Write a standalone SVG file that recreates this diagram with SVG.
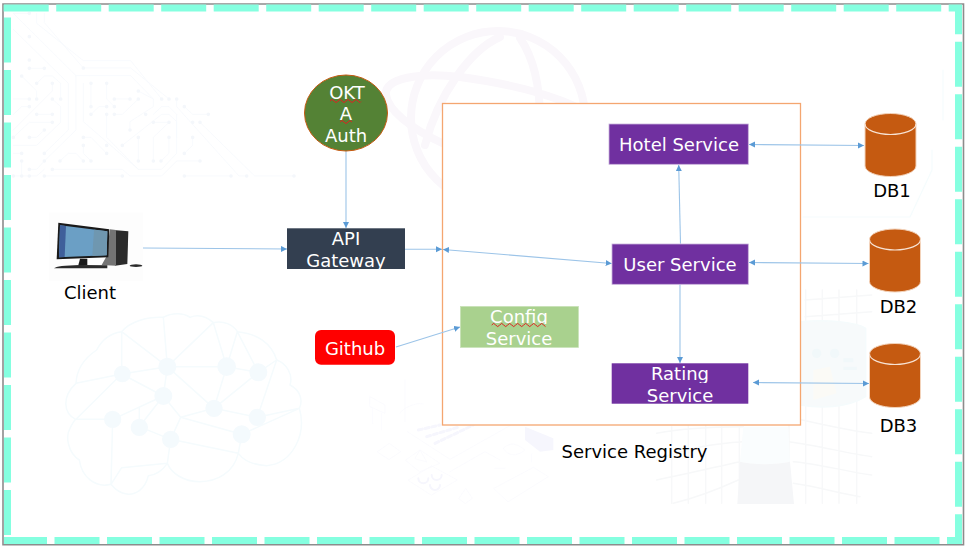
<svg xmlns="http://www.w3.org/2000/svg" width="966" height="547" viewBox="0 0 966 547">
<style>
text{font-family:"DejaVu Sans",Verdana,sans-serif;font-size:18px;text-anchor:middle}
.w{fill:#fff}.k{fill:#000}
.dash{fill:none;stroke:#85ffe0;stroke-width:7;stroke-dasharray:45 7.5}
.wm{fill:none;stroke-linejoin:round;stroke-linecap:round}
.sq{fill:none;stroke:#e02020;stroke-width:1}
.c{fill:none;stroke:#9cc4e8;stroke-width:1.1;marker-end:url(#a)}
.b{marker-start:url(#a)}
.svc{fill:#7030a0;stroke:#c9b3dc;stroke-width:.8}
.db{fill:#c55a11;stroke:#f3d3bb;stroke-width:1}
.dbl{fill:none;stroke:#f7e2d3;stroke-width:1.2}
</style>
<defs>
<marker id="a" markerUnits="userSpaceOnUse" markerWidth="7" markerHeight="7" refX="6" refY="3" orient="auto-start-reverse"><path d="M0 0L6 3L0 6Z" fill="#5b9bd5"/></marker>
<clipPath id="cg"><rect x="287" y="228" width="118" height="41"/></clipPath>
<clipPath id="cc"><rect x="460" y="306" width="118" height="18"/></clipPath>
<clipPath id="cr"><rect x="612" y="363" width="136" height="20"/></clipPath>
</defs>
<rect width="966" height="547" fill="#fff"/>

<g id="watermark">
<g class="wm" transform="scale(.33333)" stroke="#f7f9fd" stroke-width="2.500">
<path d="M110 40V70L250 182H392L485 297M133 40V68L250 204M40 40L228 227V390L133 483M40 88L205 250V390L133 460M40 40H88M228 227H250L270 227H392L460 297V320L390 365V390M250 250V365L415 508H485L530 460V365L507 343H485L367 436M460 367H507L460 412V483M507 412V460L483 483M415 412V483M578 412V436L553 460M530 297V320L717 528H740M553 320L578 343H625M600 367L764 528H882M250 204H392L507 297M40 528H110L133 508M133 528H367M157 508H367L390 528H485L530 483H600M553 528H693M88 205H133M65 228L110 273V297M110 250L133 228H157L182 250V297M157 250V273L40 390M40 297H88M40 343L65 320H88M110 343H157M157 367H88L40 412M88 412H110L133 390M40 436H110L182 367V320L157 297M273 250V320M320 250V297L343 320M273 343L297 320H320M343 297H390M343 343H367L415 297M320 343V412L415 508M415 273L460 297M460 343L485 320H507L530 343V412M250 412H273L320 460M250 436V460L273 483M180 483L205 460H228L250 483M40 460H65M65 483V528M88 508H110L133 483"/>
<path stroke="#f4f7fb" stroke-width="11" d="M88 40h0M250 204h0M485 297h0M507 297h0M530 297h0M553 320h0M625 343h0M578 367h0M600 367h0M88 110h0M88 180h0M88 205h0M133 205h0M65 228h0M110 250h0M157 250h0M110 297h0M157 297h0M182 297h0M88 297h0M88 320h0M110 343h0M157 343h0M157 367h0M133 390h0M88 412h0M40 412h0M273 250h0M320 250h0M273 320h0M320 320h0M343 320h0M273 343h0M320 343h0M343 343h0M343 297h0M390 297h0M415 297h0M415 273h0M437 343h0M390 390h0M460 367h0M507 367h0M367 436h0M415 412h0M507 412h0M578 412h0M553 460h0M415 483h0M460 483h0M483 483h0M600 483h0M250 412h0M320 436h0M320 460h0M250 436h0M250 483h0M273 483h0M180 483h0M133 460h0M133 483h0M65 460h0M65 483h0M88 508h0M157 508h0M40 528h0M65 528h0M88 528h0M133 528h0M367 528h0M553 528h0M693 528h0M740 528h0M882 528h0"/>
</g>
<g class="wm" stroke="#faf7fb" stroke-width="8">
<circle cx="498" cy="118" r="87"/>
<path d="M500 37C470 50 438 95 425 145M520 38C535 60 540 90 540 120M442 143C410 128 388 110 386 95C384 78 420 72 460 77C520 85 570 100 600 120"/>
</g>
<g class="wm" transform="translate(40 300) scale(.33333)" stroke="#f5fbfd" stroke-width="4.500">
<path d="M108 250C110 200 140 170 170 150C185 120 210 100 245 95C270 65 320 50 370 52C395 38 430 38 450 52C475 42 500 50 520 68C550 60 580 75 592 95C650 100 695 130 710 180C740 190 760 225 750 255C780 270 790 300 778 325C800 400 760 490 680 497C640 495 610 480 595 460C580 520 530 545 480 545C430 545 395 520 382 490C365 515 345 525 325 527C315 570 285 585 260 582C240 580 225 568 213 553C165 565 125 530 118 480C85 460 75 410 90 385C95 375 100 365 107 358C70 340 65 290 108 250Z"/>
<path d="M245 95V222L108 358H218L213 553L245 503L382 490L392 418L298 380L370 288L218 358M245 95L382 200L370 52M382 200L520 68L560 200L592 95L655 217L710 180M382 200H560L655 217L522 325L560 200M382 200L522 325M382 200L370 288L245 222L382 200M370 288L422 352L392 418M422 352L522 325L652 352L778 325M422 352L605 403L778 325M392 418L595 460L605 403M245 222L108 250M652 352L710 180M298 380V325"/>
<path fill="#f4fafd" stroke="none" d="M272 222a25 25 0 1 1-50 0a25 25 0 1 1 50 0M409 200a27 27 0 1 1-54 0a27 27 0 1 1 54 0M397 288a27 27 0 1 1-54 0a27 27 0 1 1 54 0M588 200a28 28 0 1 1-56 0a28 28 0 1 1 56 0M682 217a27 27 0 1 1-54 0a27 27 0 1 1 54 0M548 325a26 26 0 1 1-52 0a26 26 0 1 1 52 0M678 352a26 26 0 1 1-52 0a26 26 0 1 1 52 0M632 403a27 27 0 1 1-54 0a27 27 0 1 1 54 0M418 418a26 26 0 1 1-52 0a26 26 0 1 1 52 0M324 382a26 26 0 1 1-52 0a26 26 0 1 1 52 0M244 358a26 26 0 1 1-52 0a26 26 0 1 1 52 0"/>
</g>
<g class="wm" transform="translate(360 380) scale(.33333)" stroke="#fafafe" stroke-width="2.500">
<path d="M135 0V125M120 100C125 85 170 65 190 72M142 155L270 238L480 120M30 50L75 75V100L30 80ZM38 85V130M65 100V150M52 215L88 190L122 215L88 238ZM137 240L180 210L240 250L180 275ZM145 300L215 258L292 300L215 345ZM402 325L520 262L565 290L445 365ZM297 355L317 325L337 355L317 370ZM165 235L180 210L200 245ZM270 275L375 215L420 240M430 205C450 185 470 190 495 210C470 230 445 230 430 205M405 265H435M515 222V245"/>
<path stroke="#f6f6fd" stroke-width="9" stroke-dasharray="12 9" d="M175 150L240 135M200 170L300 140M225 190L340 135"/>
<path fill="#f6f6fd" stroke="none" d="M495 140L580 175V210L540 215L495 180Z"/>
<path stroke="#f6f6fd" stroke-width="6" d="M175 295a15 15 0 1 0 30 0M215 285a15 15 0 1 0 30 0M210 315a15 15 0 1 0 30 0"/>
</g>
<g class="wm" transform="translate(640 280) scale(.33333)" stroke="#f7f8f9" stroke-width="4.500">
<path d="M95 440V670M145 430V670M197 430V670M245 440V670M298 440V670M447 30V670M497 30V670M547 30V670M597 30V670M650 30V670M50 460C150 440 250 440 310 440M50 540C150 500 230 490 310 485M50 600C150 580 230 560 300 545M100 670C180 650 240 625 295 600M445 410C530 430 620 450 695 460M445 485C530 495 620 520 695 530M460 545C530 550 620 575 695 585M460 610C530 620 600 640 660 650M495 60L695 45M495 110L695 95"/>
<path fill="#f7fafb" stroke="#f5fbfc" d="M480 125C560 118 650 125 677 145V350C620 385 540 385 480 375Z"/>
<path fill="#fafdfe" stroke="none" d="M310 440H445L450 545C410 555 340 555 300 545Z"/>
<path fill="#f5f6f8" stroke="none" d="M300 545C340 555 410 555 450 545L462 672H292Z"/>
<path fill="#f1f8fa" stroke="none" d="M516 220a14 14 0 1 1 28 0a14 14 0 1 1 -28 0M570 220a14 14 0 1 1 28 0a14 14 0 1 1 -28 0M610 235h30v12h-30zM610 260h40v10h-40z"/>
<path fill="#fbfaf6" stroke="none" d="M520 270L570 260L590 340L520 360Z"/>
</g>
<path class="wm" stroke="#f5fcfd" stroke-width="1.200" d="M803 217H910L932 170V150M943 70V120"/>
</g>

<g id="border">
<path fill="none" stroke="#8c8c8c" stroke-width="1.600" d="M3 4H963.500V544.700H3Z"/>
<path class="dash" d="M3.700 8H962"/>
<path class="dash" stroke-dashoffset="15.700" d="M958.500 5V544"/>
<path class="dash" stroke-dashoffset="30" d="M962 540.500H4"/>
<path class="dash" d="M7.500 535V17"/>
</g>

<g id="service-registry">
<rect x="442.500" y="103.500" width="358" height="321.500" fill="#fff" stroke="#f4a670" stroke-width="1.300"/>
<text class="k" x="634.500" y="458">Service Registry</text>
</g>

<g id="connectors">
<path class="c" d="M143 248L287 249"/>
<path class="c" d="M346 151V228"/>
<path class="c" d="M405 249.300H442"/>
<path class="c b" d="M443 249.500L611.700 263.500"/>
<path class="c" d="M680.500 243.700L678.700 165"/>
<path class="c" d="M680 284.300V363"/>
<path class="c b" d="M749 144.500L864 145.500"/>
<path class="c b" d="M749 262.500L868.500 263.500"/>
<path class="c b" d="M753 382.500L869 383.500"/>
<path class="c" d="M396 347L460 327"/>
</g>

<g id="client">
<g transform="translate(30 200) scale(.33333)">
<rect x="57" y="38" width="282" height="205" fill="#fdfdfd"/>
<path fill="#2b2b2b" d="M250 90L295 94L292 192L255 197Z"/>
<path fill="#747474" d="M215 195L228 172L240 88L258 90V197Z"/>
<path fill="#1a1a1a" d="M85 68L238 88L235 172L80 178Z"/>
<path fill="#6b9fc5" d="M90 76L232 94L230 166L87 172Z"/>
<path fill="#3f5f9a" d="M90 76L108 78L104 171L87 172Z"/>
<path fill="#6f97b0" d="M192 89L232 94L230 166L187 168Z"/>
<path fill="#1a1a1a" d="M150 176H172V196H145Z"/>
<path fill="#2a2a2a" d="M72 205Q80 196 150 195L232 196V205Z"/>
<ellipse cx="318" cy="197" rx="19" ry="4" fill="#2a2a2a"/>
</g>
<text class="k" x="90" y="298.500">Client</text>
</g>

<g id="okta">
<ellipse cx="346" cy="113" rx="41.500" ry="38" fill="#548235" stroke="#c55a11" stroke-width="1"/>
<text class="w" x="347" y="98.500">OKT</text>
<text class="w" x="346" y="120">A</text>
<text class="w" x="346" y="141.700">Auth</text>
<path class="sq" d="M330 101l2 -1.600l2 1.600l2 1.600l2-1.600l2-1.600l2 1.600l2 1.600l2-1.600l2-1.600l2 1.600l2 1.600l2-1.600l2-1.600l2 1.600l2 1.600l1 -1"/>
<path class="sq" d="M340 122l2-1.600l2 1.600l2 1.600l2-1.600l2-1.600l2 1.600"/>
</g>

<g id="api-gateway">
<rect x="287" y="228.300" width="118" height="40.700" fill="#333f50"/>
<text class="w" x="346" y="245">API</text>
<text class="w" x="346" y="266.700" clip-path="url(#cg)">Gateway</text>
</g>

<g id="github">
<rect x="315" y="330" width="80" height="34.700" rx="6" fill="#f00"/>
<text class="w" x="355" y="354.500">Github</text>
</g>

<g id="config-service">
<rect x="460.400" y="306.400" width="118" height="41" fill="#a9d18e" stroke="#c9e2b8" stroke-width=".8"/>
<text class="w" x="519" y="322.500" clip-path="url(#cc)">Config</text>
<text class="w" x="519" y="345">Service</text>
<path class="sq" d="M491.700 325l2-1.600l2 1.600l2 1.600l2-1.600l2-1.600l2 1.600l2 1.600l2-1.600l2-1.600l2 1.600l2 1.600l2-1.600l2-1.600l2 1.600l2 1.600l2-1.600l2-1.600l2 1.600l2 1.600l2-1.600l2-1.600l2 1.600l2 1.600l2-1.600l2-1.600l2 1.600l1.800 1.600"/>
</g>

<g id="hotel-service">
<rect class="svc" x="609" y="124" width="139.300" height="40.300"/>
<text class="w" x="679" y="151">Hotel Service</text>
</g>

<g id="user-service">
<rect class="svc" x="612" y="244" width="136.300" height="40.300"/>
<text class="w" x="680" y="271">User Service</text>
</g>

<g id="rating-service">
<rect x="611.700" y="363.300" width="136.600" height="40.400" fill="#7030a0"/>
<text class="w" x="680" y="380" clip-path="url(#cr)">Rating</text>
<text class="w" x="680" y="401.700">Service</text>
</g>

<g id="db1">
<path class="db" d="M865 124A25.500 10.500 0 0 1 916 124V166A25.500 10.500 0 0 1 865 166Z"/>
<path class="dbl" d="M865 124A25.500 10.500 0 0 0 916 124"/>
<text class="k" x="892" y="196.700">DB1</text>
</g>
<g id="db2">
<path class="db" d="M869.500 239.500A25.500 10.500 0 0 1 920.500 239.500V281.500A25.500 10.500 0 0 1 869.500 281.500Z"/>
<path class="dbl" d="M869.500 239.500A25.500 10.500 0 0 0 920.500 239.500"/>
<text class="k" x="898.500" y="312.700">DB2</text>
</g>
<g id="db3">
<path class="db" d="M869.500 354A25.500 10.500 0 0 1 920.500 354V397A25.500 10.500 0 0 1 869.500 397Z"/>
<path class="dbl" d="M869.500 354A25.500 10.500 0 0 0 920.500 354"/>
<text class="k" x="898.500" y="432.300">DB3</text>
</g>
</svg>
